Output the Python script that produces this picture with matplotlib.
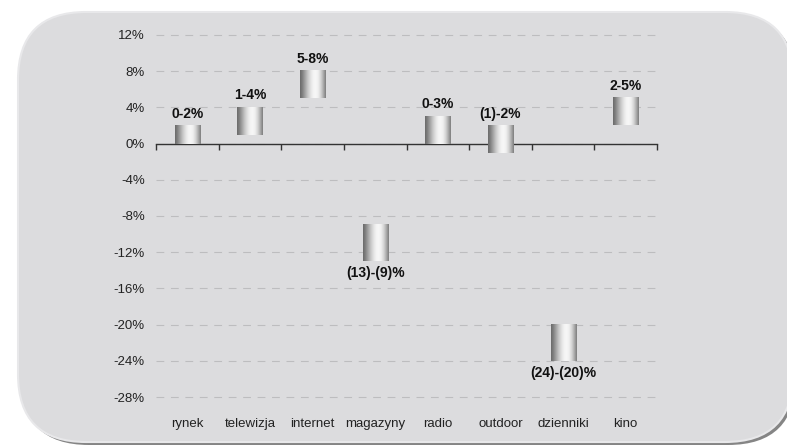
import numpy as np
import matplotlib
matplotlib.use("Agg")
import matplotlib.pyplot as plt
from matplotlib.patches import FancyBboxPatch

# data
categories = ['rynek', 'telewizja', 'internet', 'magazyny', 'radio', 'outdoor', 'dzienniki', 'kino']
low = [0, 1, 5, -13, 0, -1, -24, 2]
high = [2, 4, 8, -9, 3, 2, -20, 5]
labels = ['0-2%', '1-4%', '5-8%', '(13)-(9)%', '0-3%', '(1)-2%', '(24)-(20)%', '2-5%']
yticks = [12, 8, 4, 0, -4, -8, -12, -16, -20, -24, -28]

plt.rcParams['font.family'] = ['Liberation Sans', 'DejaVu Sans']

W, H = 787, 446
fig = plt.figure(figsize=(W / 100, H / 100), dpi=100, facecolor='white')

def fx(px):
    return px / W

def fy(py):
    return 1 - py / H

# rounded background with shadow
bg_ax = fig.add_axes([0, 0, 1, 1])
bg_ax.set_xlim(0, W)
bg_ax.set_ylim(H, 0)
bg_ax.axis('off')
shadow = FancyBboxPatch((21, 15), 775, 430, boxstyle='round,pad=0,rounding_size=68',
                        facecolor='#858585', edgecolor='none')
bg_ax.add_patch(shadow)
box = FancyBboxPatch((18, 12), 775, 430, boxstyle='round,pad=0,rounding_size=68',
                     facecolor='#dcdcde', edgecolor='#e8e8ea', linewidth=1.5)
bg_ax.add_patch(box)

ax = fig.add_axes([fx(156), fy(397), fx(657) - fx(156), fy(35) - fy(397)])
ax.set_facecolor('none')

# gradient for bars
g = np.array([0.42, 0.52, 0.65, 0.78, 0.88, 0.95, 0.97, 0.94, 0.84, 0.68, 0.5])
xs = np.linspace(0, 1, len(g))
grad = np.interp(np.linspace(0, 1, 64), xs, g).reshape(1, -1)

bw = 0.4
for i in range(len(categories)):
    ax.imshow(grad, cmap='gray', vmin=0, vmax=1, aspect='auto', interpolation='bilinear',
              extent=(i - bw / 2, i + bw / 2, low[i], high[i]), zorder=3)
    if high[i] > 0:
        ax.text(i, high[i] + 0.55, labels[i], ha='center', va='bottom',
                fontsize=10, fontweight='bold', color='#111111', zorder=4)
    else:
        ax.text(i, low[i] - 0.55, labels[i], ha='center', va='top',
                fontsize=10, fontweight='bold', color='#111111', zorder=4)

ax.set_xlim(-0.5, len(categories) - 0.5)
ax.set_ylim(-28, 12)

for y in yticks:
    ax.axhline(y, color='#bdbdbf', linewidth=0.8, linestyle=(0, (7, 6)), zorder=1, clip_on=False)

ax.set_yticks(yticks)
ax.set_yticklabels([f'{y}%' for y in yticks], fontsize=9.5, color='#222222')
ax.tick_params(axis='y', length=0, pad=8)

ax.spines['bottom'].set_position(('data', 0))
ax.spines['bottom'].set_color('#333333')
ax.spines['bottom'].set_linewidth(1.0)
for s in ['left', 'right', 'top']:
    ax.spines[s].set_visible(False)
ax.set_xticks(np.arange(-0.5, len(categories), 1.0))
ax.set_xticklabels([])
ax.tick_params(axis='x', direction='out', length=4, color='#333333', width=1)

for i, c in enumerate(categories):
    ax.text(i, -31, c, ha='center', va='center', fontsize=9.5, color='#222222')

fig.savefig('out.png', dpi=100, facecolor='white')
